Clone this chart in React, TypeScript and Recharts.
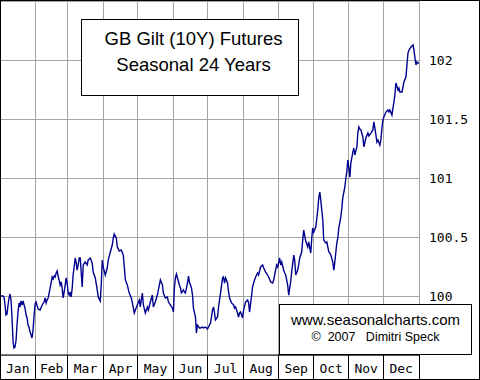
import React from 'react';
import { LineChart, Line, XAxis, YAxis, CartesianGrid, ReferenceLine } from 'recharts';

// day of year (0..365) and seasonal price
const days = [
  0, 2.6, 3.5, 4.4, 5.2, 6.1, 7.0, 7.9, 8.7, 9.6, 10.5, 11.4, 12.2, 13.1, 14.0, 14.8, 15.7, 16.6, 17.5, 18.3,
  19.2, 20.1, 21.0, 21.8, 22.7, 23.6, 24.4, 25.3, 26.2, 27.1, 27.9, 28.8, 29.7, 30.6, 31.4, 33.2, 34.9, 36.7, 38.4, 39.3,
  40.2, 41.0, 41.9, 42.8, 43.7, 44.5, 45.4, 46.3, 47.2, 48.0, 48.9, 49.8, 50.6, 51.5, 52.4, 53.3, 54.1, 55.0, 55.9, 56.8,
  57.6, 58.5, 59.4, 60.3, 61.1, 62.0, 62.9, 63.7, 64.6, 65.5, 66.4, 67.2, 68.1, 69.0, 69.9, 71.6, 72.5, 74.2, 76.0, 76.8,
  78.6, 80.3, 81.2, 83.0, 84.7, 85.6, 87.3, 88.2, 89.1, 89.9, 91.7, 93.4, 94.3, 96.1, 97.8, 98.7, 99.5, 101.3, 102.2, 103.9,
  105.7, 107.4, 108.3, 109.2, 110.9, 112.6, 114.4, 115.3, 117.0, 117.9, 119.6, 121.4, 122.2, 124.0, 124.9, 126.6, 128.4, 129.2, 131.0, 132.7,
  133.6, 135.3, 137.1, 138.8, 139.7, 141.5, 142.3, 144.1, 145.8, 146.7, 148.4, 150.2, 151.1, 151.9, 152.8, 153.7, 154.6, 156.3, 157.2, 158.0,
  159.8, 160.7, 161.5, 163.3, 164.2, 165.0, 166.8, 167.7, 168.5, 170.3, 171.1, 172.0, 173.8, 174.6, 176.4, 177.3, 179.0, 180.8, 181.6, 183.4,
  185.1, 186.0, 186.9, 187.7, 189.5, 190.4, 192.1, 193.9, 194.7, 195.6, 196.5, 198.2, 199.1, 200.0, 201.7, 203.5, 204.3, 205.2, 206.9, 207.8,
  208.7, 209.6, 211.3, 212.2, 213.9, 215.7, 216.6, 217.4, 219.2, 220.0, 220.9, 222.7, 224.4, 225.3, 227.0, 228.8, 229.7, 231.4, 233.1, 234.0,
  235.8, 237.5, 238.4, 240.1, 241.0, 241.9, 243.6, 244.5, 245.4, 247.1, 248.0, 248.9, 250.6, 251.5, 252.4, 253.2, 254.1, 255.9, 256.7, 257.6,
  259.3, 260.2, 261.1, 262.8, 263.7, 264.6, 266.3, 268.1, 268.9, 270.7, 271.6, 272.4, 273.3, 275.1, 276.8, 277.7, 278.6, 279.4, 281.2, 282.0,
  283.8, 284.7, 286.4, 287.3, 288.2, 289.9, 290.8, 291.6, 293.4, 294.3, 295.1, 296.9, 297.8, 298.6, 300.4, 301.3, 302.1, 303.0, 303.9, 304.8,
  305.6, 307.4, 308.2, 309.1, 310.9, 311.7, 312.6, 313.5, 314.4, 316.1, 317.0, 318.7, 320.5, 321.3, 323.1, 324.8, 325.7, 327.5, 328.3, 329.2,
  330.9, 331.8, 332.7, 333.6, 334.4, 336.2, 337.9, 338.8, 339.7, 341.4, 342.3, 343.2, 344.0, 344.9, 346.7, 347.5, 348.4, 350.2, 351.0, 351.9,
  353.6, 354.5, 355.4, 356.3, 358.0, 359.8, 360.6, 361.5, 362.4, 363.2, 364.1, 365,
];

const prices = [
  100.0, 100.0, 99.992, 99.924, 99.839, 99.847, 99.924, 99.983, 100.017, 99.966, 99.814, 99.61, 99.559, 99.568, 99.627, 99.754, 99.864, 99.941, 99.907, 99.958,
  99.924, 99.958, 99.924, 99.898, 99.839, 99.814, 99.754, 99.737, 99.695, 99.669, 99.644, 99.712, 99.839, 99.932, 99.949, 99.89, 99.881, 99.924, 99.949, 99.983,
  99.941, 99.966, 99.983, 100.025, 100.068, 100.11, 100.161, 100.144, 100.169, 100.161, 100.195, 100.212, 100.169, 100.136, 100.093, 100.119, 100.068, 99.983, 100.034, 100.093,
  100.153, 100.11, 100.025, 100.008, 100.034, 99.992, 100.068, 100.178, 100.246, 100.322, 100.28, 100.22, 100.263, 100.322, 100.322, 100.076, 100.263, 100.288, 100.263, 100.305,
  100.322, 100.28, 100.203, 100.153, 100.051, 99.992, 99.958, 100.093, 100.305, 100.246, 100.178, 100.237, 100.305, 100.373, 100.432, 100.492, 100.525, 100.492, 100.415, 100.381,
  100.39, 100.347, 100.246, 100.136, 100.093, 100.025, 99.983, 99.941, 99.856, 99.881, 99.924, 99.966, 99.907, 100.025, 99.924, 99.856, 99.907, 99.881, 99.949, 100.008,
  99.907, 99.949, 100.008, 100.093, 100.136, 100.093, 100.025, 99.983, 99.992, 99.949, 99.924, 99.898, 99.864, 100.068, 100.153, 100.186, 100.153, 100.093, 100.068, 100.025,
  100.051, 100.034, 100.025, 100.11, 100.169, 100.119, 100.068, 100.008, 99.898, 99.822, 99.686, 99.754, 99.729, 99.729, 99.737, 99.729, 99.737, 99.72, 99.737, 99.771,
  99.881, 99.907, 99.856, 99.797, 99.822, 99.907, 100.025, 100.153, 100.161, 100.11, 100.153, 100.11, 100.034, 99.983, 99.941, 99.924, 99.898, 99.907, 99.856, 99.822,
  99.856, 99.864, 99.814, 99.881, 99.949, 99.966, 99.941, 99.864, 100.008, 100.076, 100.11, 100.161, 100.195, 100.178, 100.246, 100.263, 100.237, 100.203, 100.178, 100.161,
  100.119, 100.11, 100.136, 100.22, 100.263, 100.246, 100.322, 100.263, 100.288, 100.22, 100.195, 100.178, 100.093, 100.008, 100.068, 100.119, 100.203, 100.347, 100.305, 100.178,
  100.22, 100.263, 100.322, 100.373, 100.475, 100.559, 100.466, 100.415, 100.458, 100.364, 100.492, 100.576, 100.542, 100.585, 100.729, 100.831, 100.881, 100.814, 100.644, 100.475,
  100.449, 100.458, 100.373, 100.364, 100.347, 100.288, 100.22, 100.28, 100.449, 100.492, 100.576, 100.669, 100.746, 100.831, 100.924, 101.0, 101.051, 101.153, 101.085, 101.008,
  101.127, 101.22, 101.254, 101.195, 101.263, 101.381, 101.432, 101.415, 101.407, 101.347, 101.263, 101.339, 101.381, 101.356, 101.381, 101.407, 101.475, 101.364, 101.305, 101.322,
  101.28, 101.322, 101.424, 101.492, 101.517, 101.559, 101.576, 101.559, 101.576, 101.534, 101.593, 101.644, 101.703, 101.805, 101.746, 101.763, 101.729, 101.729, 101.771, 101.814,
  101.856, 101.958, 102.059, 102.085, 102.11, 102.127, 102.085, 102.017, 101.958, 101.983, 101.975, 101.975,
];

const months = ['Jan', 'Feb', 'Mar', 'Apr', 'May', 'Jun', 'Jul', 'Aug', 'Sep', 'Oct', 'Nov', 'Dec'];
const monthEdges = [0, 31, 59, 90, 120, 151, 181, 212, 243, 273, 304, 334, 365];
const priceTicks = [100, 100.5, 101, 101.5, 102];

const monthMids = months.map((_, i) => (monthEdges[i] + monthEdges[i + 1]) / 2);
const xTicks = [...monthEdges, ...monthMids].sort((a, b) => a - b);
const data = days.map((day, i) => ({ day, price: prices[i] }));

const GRID = '#a4a4a4';
const MONO = '"DejaVu Sans Mono", "Liberation Mono", monospace';
const SANS = '"Liberation Sans", Arial, sans-serif';

const MonthTick = ({ x, y, payload }: any) => {
  const v = payload.value;
  if (monthEdges.includes(v)) {
    return <line x1={x} x2={x} y1={y} y2={y + 24} stroke="#000" shapeRendering="crispEdges" />;
  }
  const i = monthMids.indexOf(v);
  return (
    <text x={x} y={y + 13} textAnchor="middle" dominantBaseline="central" fontFamily={MONO} fontSize={13} fill="#000">
      {months[i]}
    </text>
  );
};

export default function App() {
  return (
    <div style={{ position: 'absolute', left: 0, top: 0, width: 480, height: 380, background: '#fff' }}>
      <LineChart width={480} height={380} data={data} margin={{ top: 1, right: 0, bottom: 1, left: 0 }}>
        <CartesianGrid vertical={false} stroke={GRID} shapeRendering="crispEdges" />
        {monthEdges.slice(1).map((d) => (
          <ReferenceLine key={d} x={d} stroke={GRID} shapeRendering="crispEdges" />
        ))}
        <XAxis
          dataKey="day"
          type="number"
          domain={[0, 365]}
          ticks={xTicks}
          interval={0}
          tick={MonthTick}
          tickLine={false}
          tickSize={0}
          tickMargin={0}
          axisLine={{ stroke: '#000' }}
          height={24}
        />
        <YAxis
          orientation="right"
          type="number"
          domain={[99.5, 102.5]}
          ticks={priceTicks}
          interval={0}
          axisLine={false}
          tickLine={false}
          tickSize={0}
          tickMargin={10}
          width={61}
          tick={{ fill: '#000', fontSize: 13, fontFamily: MONO }}
        />
        <Line
          type="linear"
          dataKey="price"
          stroke="#00008f"
          strokeWidth={1.4}
          dot={false}
          isAnimationActive={false}
        />
      </LineChart>

      <div
        style={{
          position: 'absolute', left: 81, top: 19, width: 218, height: 77, boxSizing: 'border-box',
          border: '1px solid #000', background: '#fff', textAlign: 'center', fontFamily: SANS,
          fontSize: 18.5, lineHeight: '26px', paddingTop: 6, paddingLeft: 7, color: '#000',
        }}
      >
        <div>GB Gilt (10Y) Futures</div>
        <div>Seasonal 24 Years</div>
      </div>

      <div
        style={{
          position: 'absolute', left: 279, top: 304, width: 193, height: 51, boxSizing: 'border-box',
          border: '1px solid #000', background: '#fff', textAlign: 'center', fontFamily: SANS,
          paddingTop: 6, color: '#000',
        }}
      >
        <div style={{ fontSize: 15, lineHeight: '18px' }}>www.seasonalcharts.com</div>
        <div style={{ fontSize: 12.5, lineHeight: '16.5px', whiteSpace: 'pre' }}>{'©  2007   Dimitri Speck'}</div>
      </div>

      <div
        style={{
          position: 'absolute', left: 0, top: 0, width: 480, height: 380, boxSizing: 'border-box',
          border: '1px solid #000', pointerEvents: 'none',
        }}
      />
    </div>
  );
}
